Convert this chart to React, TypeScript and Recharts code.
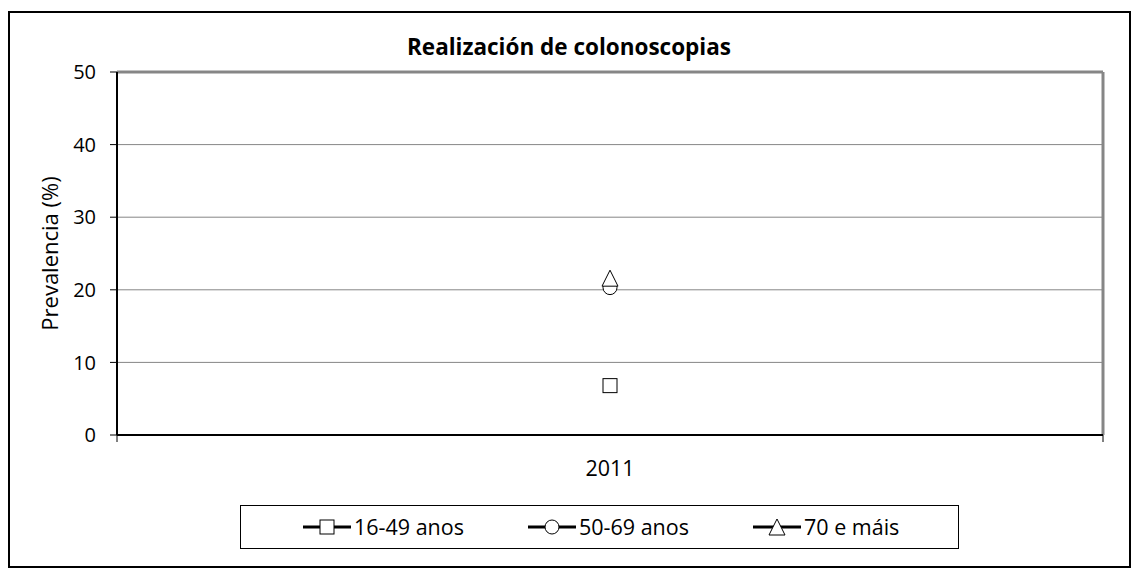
import React from "react";
import {
  LineChart,
  Line,
  XAxis,
  YAxis,
  CartesianGrid,
  ReferenceLine,
} from "recharts";

const categories = ["2011"];
const seriesNames = ["16-49 anos", "50-69 anos", "70 e máis"];
const values1649 = [6.8];
const values5069 = [20.3];
const values70 = [21.6];
const yTicks = [0, 10, 20, 30, 40, 50];

const FONT = "'Open Sans', sans-serif";
const GRID = "#868686";

const data = categories.map((c, i) => ({
  pos: i + 0.5,
  label: c,
  s1: values1649[i],
  s2: values5069[i],
  s3: values70[i],
}));

const MS = 14;

function markerSquare(props: any) {
  const { cx, cy, key } = props;
  if (cx == null || cy == null) return <g key={key} />;
  return (
    <rect key={key} x={cx - MS / 2} y={cy - MS / 2} width={MS} height={MS} fill="#fff" stroke="#000" strokeWidth={1} />
  );
}
function markerCircle(props: any) {
  const { cx, cy, key } = props;
  if (cx == null || cy == null) return <g key={key} />;
  return <circle key={key} cx={cx} cy={cy} r={MS / 2} fill="#fff" stroke="#000" strokeWidth={1} />;
}
function markerTriangle(props: any) {
  const { cx, cy, key } = props;
  if (cx == null || cy == null) return <g key={key} />;
  const h = MS / 2 + 1;
  return (
    <polygon
      key={key}
      points={`${cx},${cy - h} ${cx + h},${cy + h} ${cx - h},${cy + h}`}
      fill="#fff"
      stroke="#000"
      strokeWidth={1}
    />
  );
}

const markers = [markerSquare, markerCircle, markerTriangle];
const keys = ["s1", "s2", "s3"];

function XTick(props: any) {
  const { x, y, payload } = props;
  const v = payload.value;
  const idx = v - 0.5;
  if (Number.isInteger(idx) && categories[idx] !== undefined) {
    return (
      <text x={x} y={y + 33} dy="0.355em" textAnchor="middle" fontFamily={FONT} fontSize={21.5} fill="#000">
        {categories[idx]}
      </text>
    );
  }
  return <line x1={x} y1={y} x2={x} y2={y + 7} stroke="#000" strokeWidth={1} />;
}

const xTicks: number[] = [];
for (let i = 0; i <= categories.length; i++) {
  xTicks.push(i);
  if (i < categories.length) xTicks.push(i + 0.5);
}

function LegendIcon({ idx }: { idx: number }) {
  const cx = 24;
  const cy = 10;
  return (
    <svg width={48} height={20} style={{ display: "block" }}>
      <line x1={0} y1={cy} x2={48} y2={cy} stroke="#000" strokeWidth={3} />
      {markers[idx]({ cx, cy, key: "m" })}
    </svg>
  );
}

export default function App() {
  return (
    <div style={{ position: "relative", width: 1132, height: 569 }}>
      <div
        style={{
          position: "absolute",
          left: 0,
          top: 3,
          width: 1123,
          height: 557,
          border: "2px solid #000",
          boxSizing: "border-box",
        }}
      />
      <div
        style={{
          position: "absolute",
          left: 0,
          top: 23,
          width: 1122,
          textAlign: "center",
          fontFamily: FONT,
          fontWeight: 700,
          fontSize: 22.5,
          lineHeight: "32px",
          color: "#000",
        }}
      >
        Realización de colonoscopias
      </div>
      <div style={{ position: "absolute", left: 0, top: 0 }}>
        <LineChart
          width={1132}
          height={569}
          data={data}
          margin={{ top: 64, right: 37, left: 49, bottom: 92 }}
        >
          <CartesianGrid vertical={false} stroke={GRID} strokeWidth={1} />
          <XAxis
            dataKey="pos"
            type="number"
            domain={[0, categories.length]}
            ticks={xTicks}
            interval={0}
            tickLine={false}
            tickSize={0}
            tickMargin={0}
            tick={<XTick />}
            axisLine={{ stroke: "#000", strokeWidth: 2 }}
            height={50}
          />
          <YAxis
            domain={[0, 50]}
            ticks={yTicks}
            interval={0}
            width={60}
            tickSize={7}
            tickMargin={14}
            tickLine={{ stroke: "#000" }}
            axisLine={{ stroke: "#000", strokeWidth: 2 }}
            tick={{ fontFamily: FONT, fontSize: 20, fill: "#000" }}
            label={(p: any) => {
              const vb = p.viewBox || {};
              const cx = (vb.x ?? 49) - 7;
              const cy = (vb.y ?? 64) + (vb.height ?? 363) / 2;
              return (
                <text
                  x={cx}
                  y={cy}
                  transform={`rotate(-90 ${cx} ${cy})`}
                  textAnchor="middle"
                  dy="0.355em"
                  fontFamily={FONT}
                  fontSize={22}
                  fill="#000"
                >
                  Prevalencia (%)
                </text>
              );
            }}
          />
          <ReferenceLine y={50} stroke={GRID} strokeWidth={3} />
          <ReferenceLine x={categories.length} stroke={GRID} strokeWidth={3} />
          {keys.map((k, i) => (
            <Line
              key={k}
              dataKey={k}
              name={seriesNames[i]}
              stroke="#000"
              strokeWidth={3}
              dot={markers[i]}
              activeDot={false}
              isAnimationActive={false}
            />
          ))}
        </LineChart>
      </div>
      <div
        style={{
          position: "absolute",
          left: 232,
          top: 497,
          width: 719,
          height: 44,
          border: "1px solid #000",
          boxSizing: "border-box",
          background: "#fff",
        }}
      >
        {seriesNames.map((n, i) => (
          <div
            key={n}
            style={{
              position: "absolute",
              left: 62 + i * 225,
              top: 9,
              display: "flex",
              alignItems: "center",
              gap: 3,
              fontFamily: FONT,
              fontSize: 21.5,
              lineHeight: "24px",
              color: "#000",
              whiteSpace: "nowrap",
            }}
          >
            <LegendIcon idx={i} />
            <span>{n}</span>
          </div>
        ))}
      </div>
    </div>
  );
}
